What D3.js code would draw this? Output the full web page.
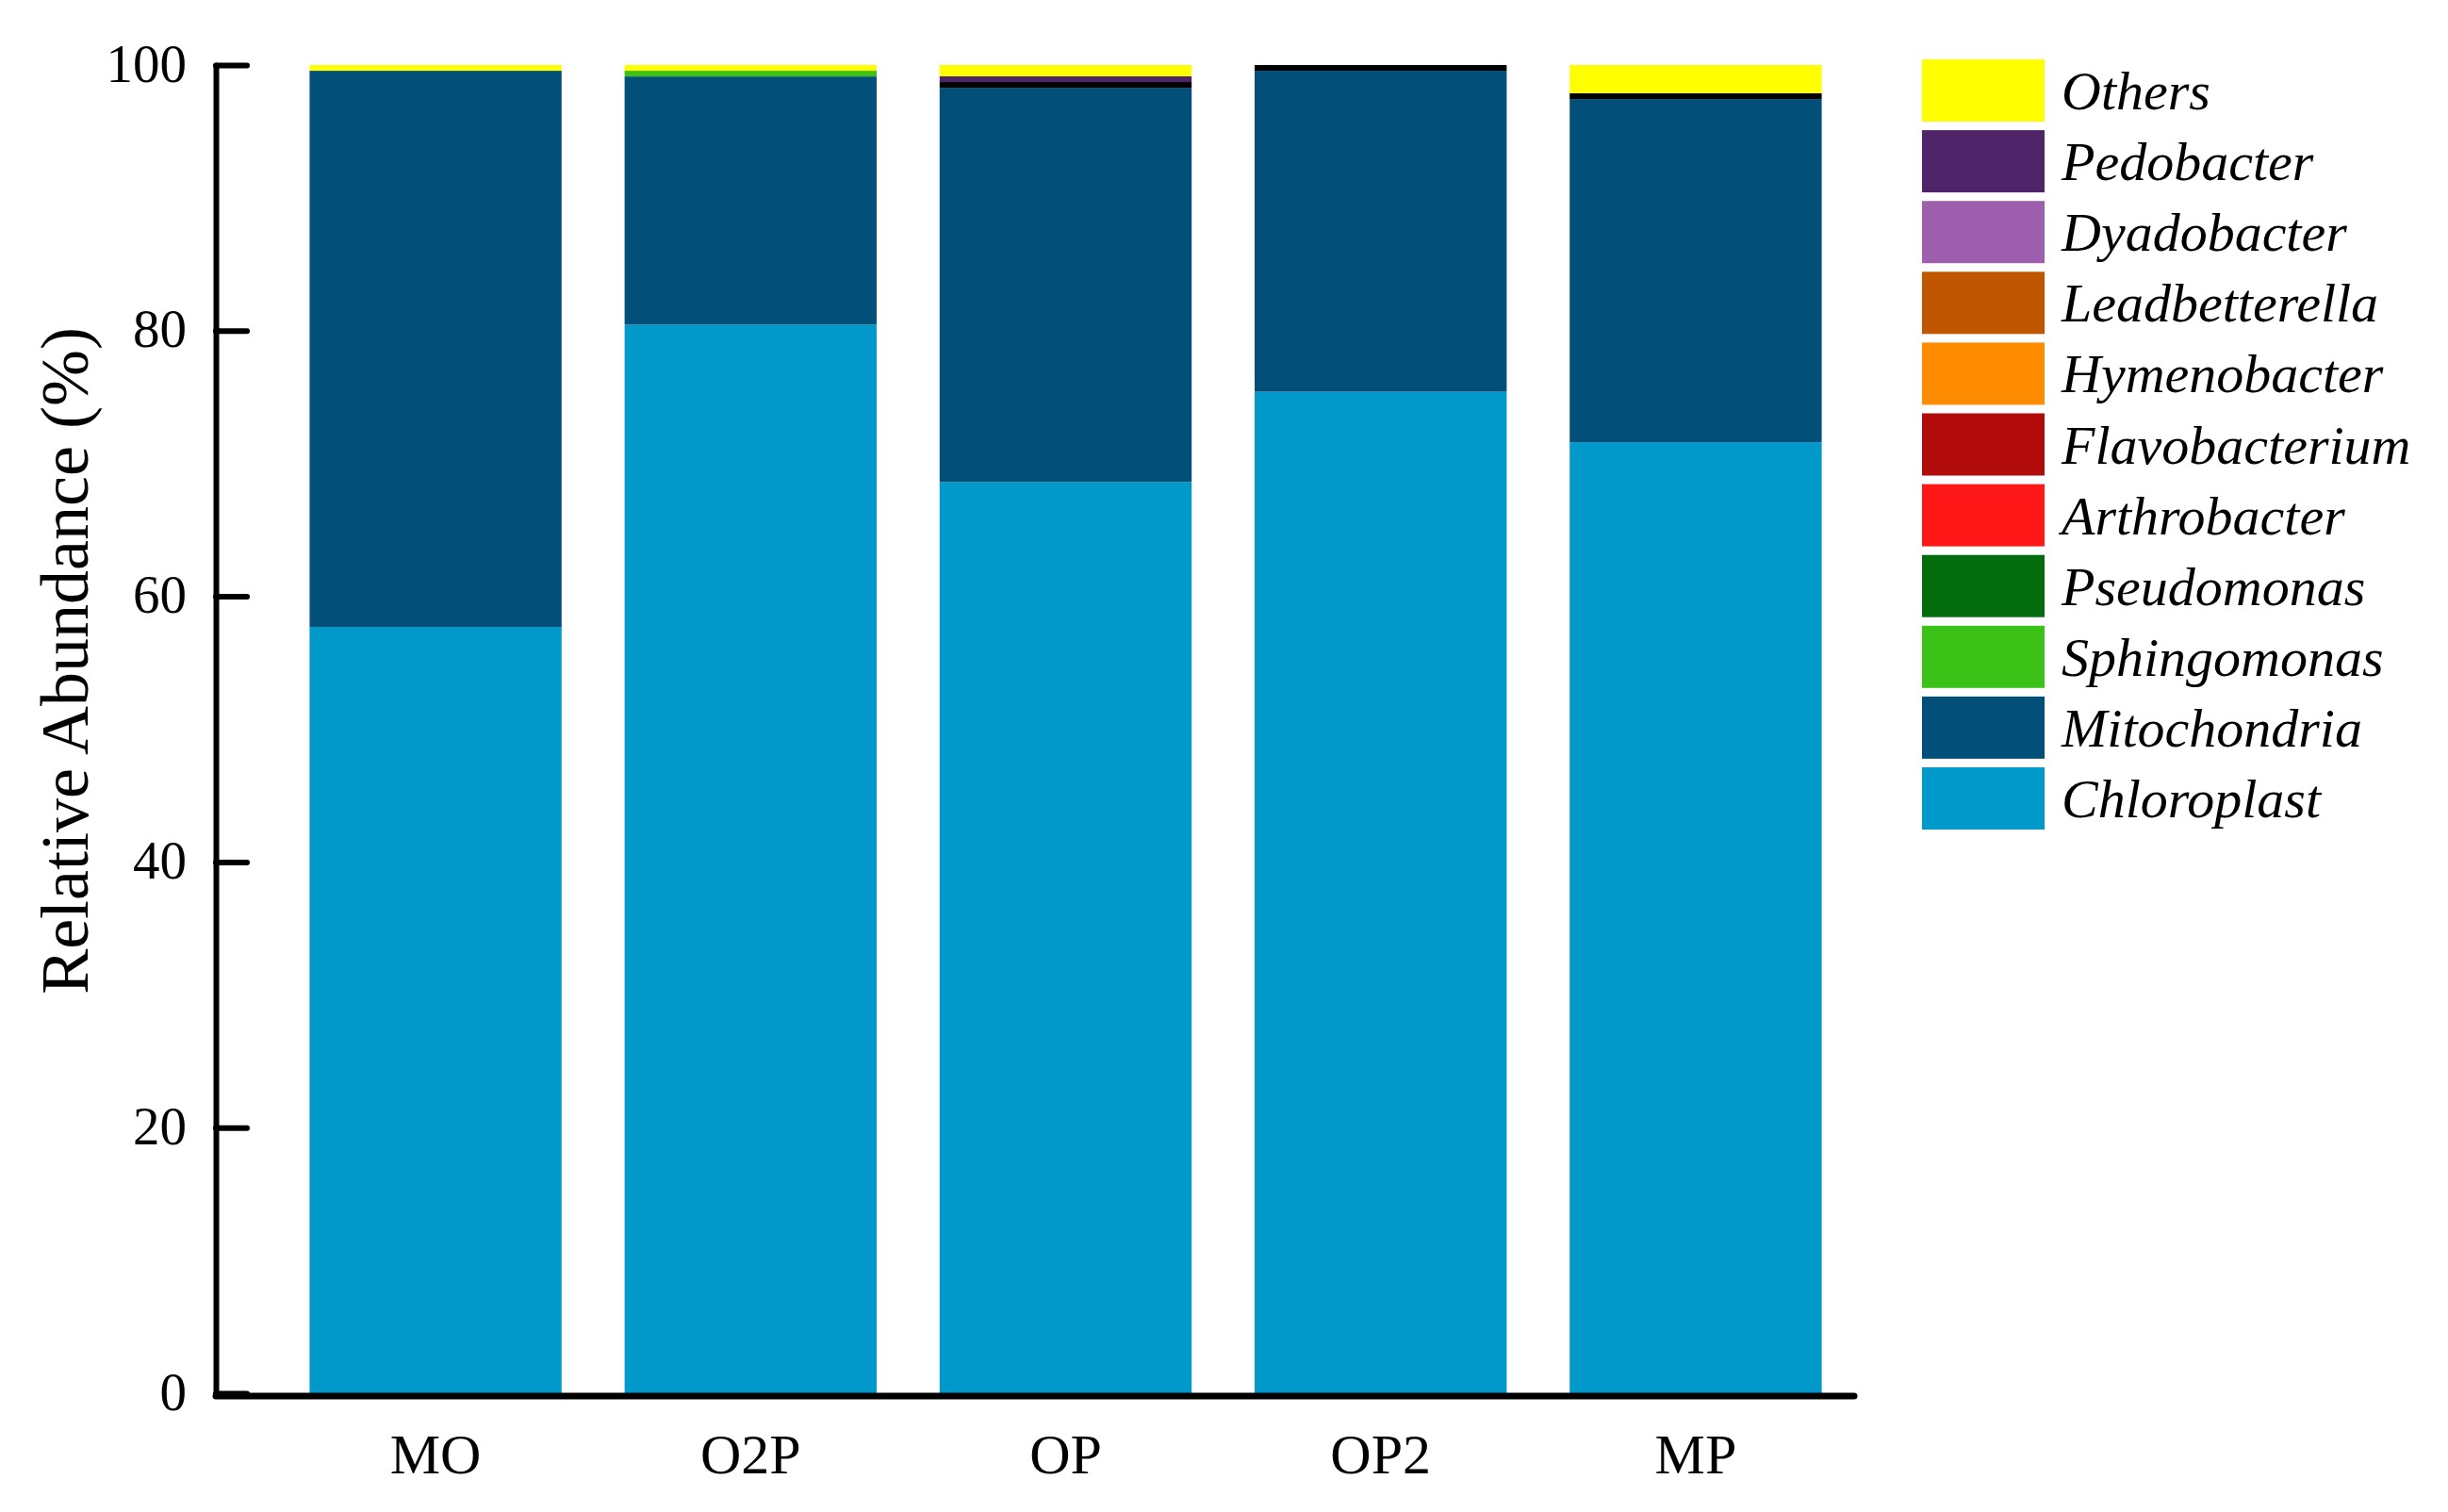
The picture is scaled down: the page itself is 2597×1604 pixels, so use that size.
<!DOCTYPE html>
<html>

<head>
    <meta charset="utf-8">
    <title>Relative Abundance</title>
    <script src="https://d3js.org/d3.v7.min.js" charset="utf-8"></script>
    <style type="text/css">
        body {
            margin: 0;
            background: #fff;
        }

        svg text {
            font-family: "Liberation Serif", "Times New Roman", serif;
            fill: #000;
        }

        .axis path,
        .axis line {
            fill: none;
            stroke: #000;
            stroke-width: 6px;
            stroke-linecap: round;
        }
    </style>
</head>

<body>
<script type="text/javascript">
    // samples along the x axis
    var samples = ["MO", "O2P", "OP", "OP2", "MP"];

    // relative abundance (%) per sample, same order as samples
    var chloroplast = [57.7, 80.45, 68.6, 75.4, 71.6];
    var mitochondria = [41.87, 18.69, 29.69, 24.17, 25.84];
    var unassigned = [0, 0, 0.43, 0.43, 0.43];     // thin black band, not in legend
    var sphingomonas = [0, 0.43, 0, 0, 0];
    var pseudomonas = [0, 0, 0, 0, 0];
    var arthrobacter = [0, 0, 0, 0, 0];
    var flavobacterium = [0, 0, 0, 0, 0];
    var hymenobacter = [0, 0, 0, 0, 0];
    var leadbetterella = [0, 0, 0, 0, 0];
    var dyadobacter = [0, 0, 0, 0, 0];
    var pedobacter = [0, 0, 0.43, 0, 0];
    var others = [0.43, 0.43, 0.85, 0, 2.13];

    // stack order, bottom to top
    var taxa = ["Chloroplast", "Mitochondria", "Unassigned", "Sphingomonas", "Pseudomonas",
        "Arthrobacter", "Flavobacterium", "Hymenobacter", "Leadbetterella",
        "Dyadobacter", "Pedobacter", "Others"];
    var series = [chloroplast, mitochondria, unassigned, sphingomonas, pseudomonas,
        arthrobacter, flavobacterium, hymenobacter, leadbetterella,
        dyadobacter, pedobacter, others];

    var yTicks = [0, 20, 40, 60, 80, 100];

    var colors = {
        "Others": "#ffff00",
        "Pedobacter": "#4f2469",
        "Dyadobacter": "#9e5fae",
        "Leadbetterella": "#c05600",
        "Hymenobacter": "#ff8c00",
        "Flavobacterium": "#b20b0b",
        "Arthrobacter": "#ff1818",
        "Pseudomonas": "#036d0e",
        "Sphingomonas": "#3cc216",
        "Mitochondria": "#02507a",
        "Chloroplast": "#0199c9",
        "Unassigned": "#000000"
    };

    // legend goes top to bottom, without the black band
    var legendTaxa = taxa.filter(function (t) { return t != "Unassigned"; }).reverse();

    // rows for d3.stack
    var table = samples.map(function (s, i) {
        var row = { sample: s };
        taxa.forEach(function (t, j) { row[t] = series[j][i]; });
        return row;
    });

    var W = 2597, H = 1604;

    var svg = d3.select("body").append("svg")
        .attr("width", W)
        .attr("height", H);

    svg.append("rect")
        .attr("width", W)
        .attr("height", H)
        .attr("fill", "#fff");

    var x = d3.scaleBand()
        .domain(samples)
        .range([295, 1966])
        .paddingInner(0.2)
        .paddingOuter(0.1);

    var y = d3.scaleLinear()
        .domain([0, 100])
        .range([1478, 69]);

    var stacked = d3.stack().keys(taxa)(table);

    // bars
    svg.append("g")
        .selectAll("g")
        .data(stacked)
        .enter().append("g")
        .attr("fill", function (d) { return colors[d.key]; })
        .selectAll("rect")
        .data(function (d) { return d; })
        .enter().append("rect")
        .filter(function (d) { return d[1] - d[0] > 0; })
        .attr("x", function (d) { return x(d.data.sample); })
        .attr("width", x.bandwidth())
        .attr("y", function (d) { return y(d[1]); })
        .attr("height", function (d) { return y(d[0]) - y(d[1]); });

    // y axis, ticks pointing inward
    var yAxis = d3.axisLeft(y)
        .tickValues(yTicks)
        .tickSize(-33)
        .tickSizeOuter(0)
        .tickPadding(31);

    var gy = svg.append("g")
        .attr("class", "axis")
        .attr("transform", "translate(229,0)")
        .call(yAxis);
    gy.selectAll("text")
        .style("font-size", "57px")
        .attr("dy", "0.3em");

    // x axis line
    svg.append("line")
        .attr("x1", 229)
        .attr("x2", 1967)
        .attr("y1", y(0) + 3)
        .attr("y2", y(0) + 3)
        .attr("stroke", "#000")
        .attr("stroke-width", 7)
        .attr("stroke-linecap", "round");

    var gx = svg.append("g")
        .attr("class", "axis")
        .attr("transform", "translate(0," + y(0) + ")")
        .call(d3.axisBottom(x).tickSize(0).tickPadding(42));
    gx.select(".domain").remove();
    gx.selectAll(".tick line").remove();
    gx.selectAll("text")
        .style("font-size", "60px");

    // y title
    svg.append("text")
        .attr("transform", "translate(93,701) rotate(-90)")
        .attr("text-anchor", "middle")
        .style("font-size", "72px")
        .text("Relative Abundance (%)");

    // legend
    var legend = svg.append("g")
        .selectAll("g")
        .data(legendTaxa)
        .enter().append("g")
        .attr("transform", function (d, i) {
            return "translate(2039," + (63 + i * 75.1) + ")";
        });

    legend.append("rect")
        .attr("width", 130)
        .attr("height", 66)
        .attr("fill", function (d) { return colors[d]; });

    legend.append("text")
        .attr("x", 148)
        .attr("y", 53)
        .style("font-size", "58px")
        .style("font-style", "italic")
        .text(function (d) { return d; });
</script>
</body>

</html>
